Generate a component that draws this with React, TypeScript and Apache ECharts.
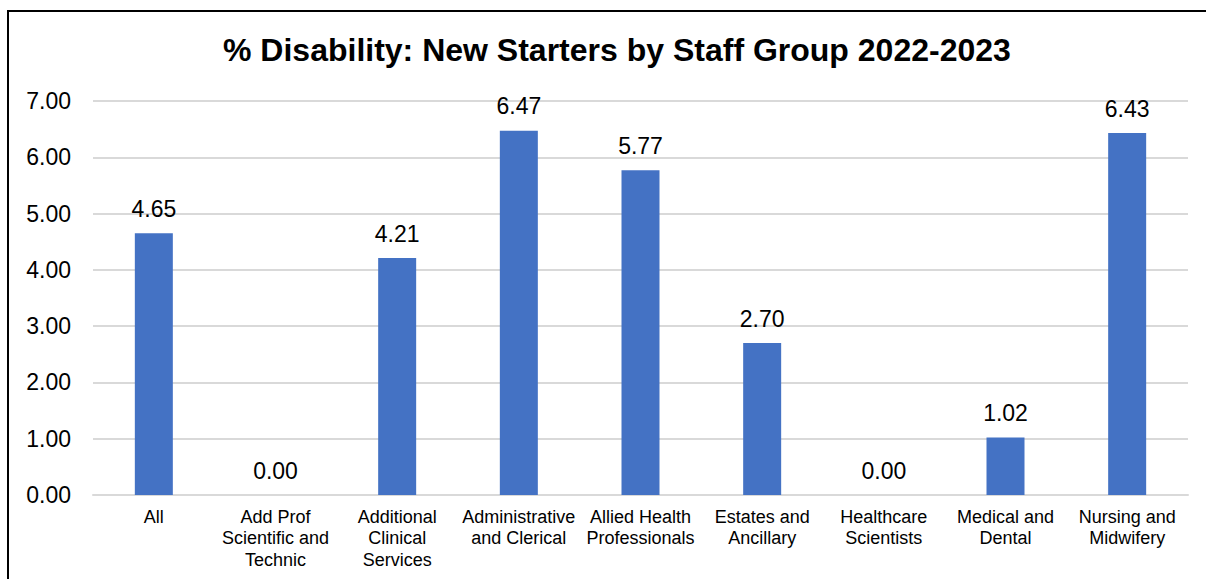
import React, { useEffect, useRef } from "react";
import * as echarts from "echarts";

const categories = [
  "All",
  "Add Prof\nScientific and\nTechnic",
  "Additional\nClinical\nServices",
  "Administrative\nand Clerical",
  "Allied Health\nProfessionals",
  "Estates and\nAncillary",
  "Healthcare\nScientists",
  "Medical and\nDental",
  "Nursing and\nMidwifery",
];
const values = [4.65, 0.0, 4.21, 6.47, 5.77, 2.7, 0.0, 1.02, 6.43];
const titleText = "% Disability: New Starters by Staff Group 2022-2023";

export default function App() {
  const ref = useRef<HTMLDivElement>(null);
  useEffect(() => {
    if (!ref.current) return;
    const chart = echarts.init(ref.current, null, { renderer: "svg" });
    const font = "'Liberation Sans', Arial, sans-serif";
    chart.setOption({
      animation: false,
      backgroundColor: "#ffffff",
      title: {
        text: titleText,
        left: 218,
        top: 29,
        textStyle: { fontFamily: font, fontSize: 32, fontWeight: "bold", color: "#000" },
      },
      graphic: [
        {
          type: "rect",
          shape: { x: 8, y: 11, width: 1400, height: 800 },
          style: { fill: "none", stroke: "#000", lineWidth: 2 },
          silent: true,
        },
      ],
      grid: { left: 93, right: 18, top: 101, bottom: 84, containLabel: false },
      xAxis: {
        type: "category",
        data: categories,
        axisLine: { show: true, lineStyle: { color: "#d9d9d9", width: 2 } },
        axisTick: { show: false },
        axisLabel: {
          interval: 0,
          fontFamily: font,
          fontSize: 18,
          color: "#000",
          lineHeight: 21.5,
          margin: 11,
        },
      },
      yAxis: {
        type: "value",
        min: 0,
        max: 7,
        interval: 1,
        axisLine: { show: false },
        axisTick: { show: false },
        splitLine: { lineStyle: { color: "#d9d9d9", width: 2 } },
        axisLabel: {
          formatter: (v: number) => v.toFixed(2),
          fontFamily: font,
          fontSize: 23,
          color: "#000",
          margin: 22,
        },
      },
      series: [
        {
          type: "bar",
          data: values,
          barWidth: 38,
          itemStyle: { color: "#4472C4" },
          label: {
            show: true,
            position: "top",
            distance: 13,
            formatter: (p: any) => Number(p.value).toFixed(2),
            fontFamily: font,
            fontSize: 23,
            color: "#000",
          },
        },
      ],
    });
    return () => chart.dispose();
  }, []);
  return (
    <div
      ref={ref}
      style={{ position: "absolute", left: 0, top: 0, width: 1206, height: 579 }}
    />
  );
}
